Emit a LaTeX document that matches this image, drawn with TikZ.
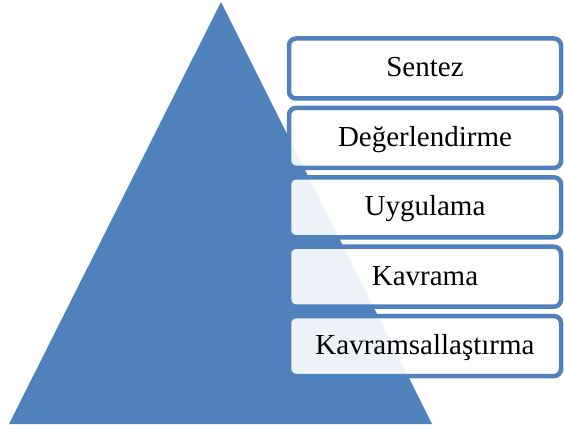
\documentclass[tikz,border=0pt]{standalone}
\usepackage{fontspec}
\setmainfont{Liberation Serif}
\definecolor{pyrblue}{HTML}{4F81BD}
\tikzset{
  levelbox/.style={draw=pyrblue, line width=4.5pt, rounded corners=7pt,
    fill=white, fill opacity=0.9, text opacity=1,
    minimum width=272pt, minimum height=60pt, inner sep=0pt,
    text height=20pt, text depth=3pt,
    font=\fontsize{29}{34}\selectfont}
}
\begin{document}
\begin{tikzpicture}[x=1pt,y=-1pt]
\useasboundingbox (0,0) rectangle (564,430);
\coordinate (apex) at (221,2);
\coordinate (bl) at (9,424);
\coordinate (br) at (432,424);
\fill[pyrblue] (apex) -- (bl) -- (br) -- cycle;
\node[levelbox] (s1) at (425,68.5) {Sentez};
\node[levelbox] (s2) at (425,137.9) {Değerlendirme};
\node[levelbox] (s3) at (425,207.3) {Uygulama};
\node[levelbox] (s4) at (425,276.7) {Kavrama};
\node[levelbox] (s5) at (425,346.1) {Kavramsallaştırma};
\end{tikzpicture}
\end{document}
